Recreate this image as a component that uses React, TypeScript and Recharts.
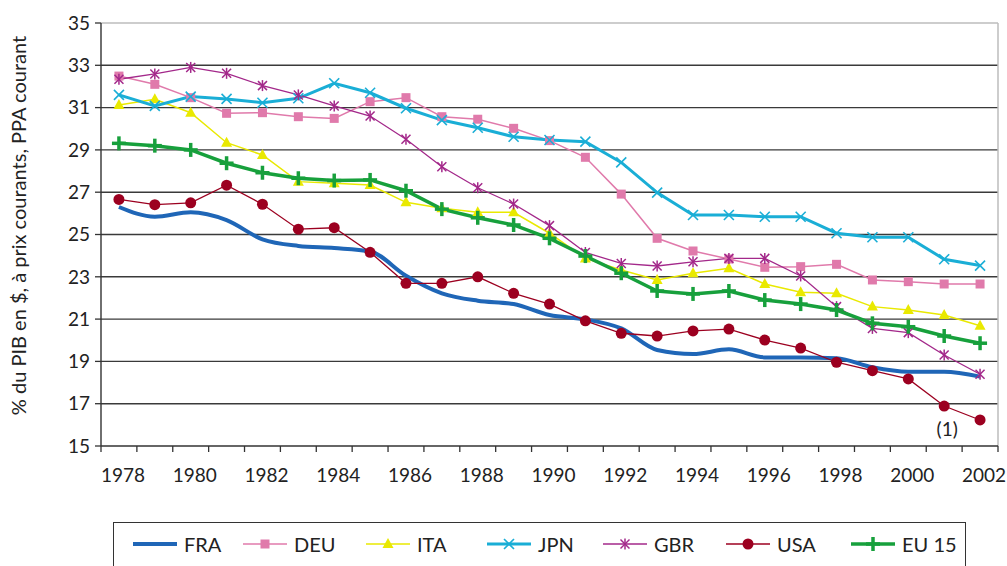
import React from 'react';
import { CartesianGrid, Line, LineChart, ReferenceDot, ReferenceLine, XAxis, YAxis } from 'recharts';

const YEARS = [
  1978, 1979, 1980, 1981, 1982, 1983, 1984, 1985, 1986, 1987, 1988, 1989, 1990,
  1991, 1992, 1993, 1994, 1995, 1996, 1997, 1998, 1999, 2000, 2001, 2002,
];
const YEAR_LABELS = [1978, 1980, 1982, 1984, 1986, 1988, 1990, 1992, 1994, 1996, 1998, 2000, 2002];
const Y_TICKS = [15, 17, 19, 21, 23, 25, 27, 29, 31, 33, 35];
const GRID_VALUES = [17, 19, 21, 23, 25, 27, 29, 31, 33];

const FRA = [26.3, 25.84, 26.05, 25.68, 24.77, 24.46, 24.36, 24.2, 23.05, 22.22, 21.87, 21.71, 21.19, 20.99, 20.56, 19.54, 19.35, 19.57, 19.19, 19.19, 19.15, 18.72, 18.51, 18.51, 18.28];
const DEU = [32.49, 32.1, 31.47, 30.73, 30.76, 30.57, 30.49, 31.28, 31.47, 30.57, 30.45, 30.02, 29.44, 28.65, 26.91, 24.82, 24.22, 23.84, 23.45, 23.48, 23.59, 22.85, 22.77, 22.66, 22.66];
const ITA = [31.12, 31.39, 30.76, 29.34, 28.76, 27.5, 27.42, 27.34, 26.52, 26.24, 26.05, 26.05, 25.06, 23.87, 23.32, 22.85, 23.17, 23.4, 22.66, 22.27, 22.22, 21.59, 21.43, 21.19, 20.69];
const JPN = [31.6, 31.08, 31.52, 31.41, 31.23, 31.44, 32.15, 31.7, 30.97, 30.41, 30.05, 29.62, 29.47, 29.39, 28.41, 26.98, 25.92, 25.92, 25.84, 25.84, 25.06, 24.87, 24.87, 23.83, 23.53];
const GBR = [32.34, 32.59, 32.9, 32.62, 32.04, 31.6, 31.08, 30.6, 29.5, 28.2, 27.21, 26.44, 25.42, 24.15, 23.63, 23.51, 23.71, 23.87, 23.87, 23.04, 21.59, 20.56, 20.36, 19.3, 18.39];
const USA = [26.66, 26.41, 26.5, 27.33, 26.43, 25.25, 25.32, 24.16, 22.69, 22.69, 23.0, 22.22, 21.71, 20.92, 20.33, 20.2, 20.44, 20.53, 20.01, 19.63, 18.96, 18.56, 18.17, 16.89, 16.23];
const EU15 = [29.31, 29.2, 29.0, 28.37, 27.92, 27.66, 27.55, 27.58, 27.07, 26.2, 25.79, 25.45, 24.82, 23.98, 23.17, 22.33, 22.19, 22.33, 21.9, 21.71, 21.43, 20.8, 20.64, 20.2, 19.86];

const NOTE = { year: 2001, value: 15.8, text: '(1)' };
const Y_LABEL = '% du PIB en $, à prix courants, PPA courant';

const FONT = 'Lato, "Open Sans", sans-serif';
const INK = '#222';
const AXIS = '#333';

type Shape = 'none' | 'square' | 'triangle' | 'cross' | 'star' | 'circle' | 'plus';

const SERIES: { key: string; name: string; color: string; width: number; shape: Shape; curve: 'linear' | 'monotone' }[] = [
  { key: 'FRA', name: 'FRA', color: '#1f66b7', width: 4, shape: 'none', curve: 'monotone' },
  { key: 'DEU', name: 'DEU', color: '#e07aab', width: 1.5, shape: 'square', curve: 'linear' },
  { key: 'ITA', name: 'ITA', color: '#e9e900', width: 1.5, shape: 'triangle', curve: 'linear' },
  { key: 'JPN', name: 'JPN', color: '#1aaed6', width: 3, shape: 'cross', curve: 'linear' },
  { key: 'GBR', name: 'GBR', color: '#a3288a', width: 1.3, shape: 'star', curve: 'linear' },
  { key: 'USA', name: 'USA', color: '#9c0020', width: 1.3, shape: 'circle', curve: 'linear' },
  { key: 'EU15', name: 'EU 15', color: '#17a03c', width: 3.5, shape: 'plus', curve: 'linear' },
];

const data = YEARS.map((year, i) => ({
  year,
  FRA: FRA[i],
  DEU: DEU[i],
  ITA: ITA[i],
  JPN: JPN[i],
  GBR: GBR[i],
  USA: USA[i],
  EU15: EU15[i],
}));

const boundaries = [...YEARS.map((y) => y - 0.5), YEARS[YEARS.length - 1] + 0.5];
const xTicks = [...boundaries, ...YEAR_LABELS].sort((a, b) => a - b);

function Marker({ shape, x, y, color }: { shape: Shape; x: number; y: number; color: string }) {
  switch (shape) {
    case 'square':
      return <rect x={x - 4.5} y={y - 4.5} width={9} height={9} fill={color} />;
    case 'triangle':
      return <polygon points={`${x},${y - 6} ${x + 5.5},${y + 4} ${x - 5.5},${y + 4}`} fill={color} />;
    case 'cross':
      return (
        <g stroke={color} strokeWidth={1.6}>
          <line x1={x - 5} y1={y - 5} x2={x + 5} y2={y + 5} />
          <line x1={x - 5} y1={y + 5} x2={x + 5} y2={y - 5} />
        </g>
      );
    case 'star':
      return (
        <g stroke={color} strokeWidth={1.5}>
          <line x1={x - 4.5} y1={y - 4.5} x2={x + 4.5} y2={y + 4.5} />
          <line x1={x - 4.5} y1={y + 4.5} x2={x + 4.5} y2={y - 4.5} />
          <line x1={x} y1={y - 5.5} x2={x} y2={y + 5.5} />
        </g>
      );
    case 'circle':
      return <circle cx={x} cy={y} r={5.5} fill={color} />;
    case 'plus':
      return (
        <g stroke={color} strokeWidth={3.5}>
          <line x1={x - 7} y1={y} x2={x + 7} y2={y} />
          <line x1={x} y1={y - 7} x2={x} y2={y + 7} />
        </g>
      );
    default:
      return null;
  }
}

function makeDot(shape: Shape, color: string) {
  if (shape === 'none') return false;
  return (props: any) => (
    <g key={props.key ?? `${shape}-${props.index}`}>
      <Marker shape={shape} x={props.cx} y={props.cy} color={color} />
    </g>
  );
}

function XTick({ x, y, payload }: any) {
  const v = payload.value;
  if (v % 1 !== 0) {
    return <line x1={x} x2={x} y1={y} y2={y + 6} stroke={AXIS} strokeWidth={1.3} />;
  }
  return (
    <text x={x + 4} y={y + 36} textAnchor="middle" fontSize={19} fontFamily={FONT} fill={INK}>
      {v}
    </text>
  );
}

function YLabel({ viewBox }: any) {
  const cy = viewBox.y + viewBox.height / 2 - 9;
  return (
    <text
      x={18}
      y={cy}
      transform={`rotate(-90 18 ${cy})`}
      textAnchor="middle"
      dominantBaseline="central"
      fontSize={20}
      fontFamily={FONT}
      fill={INK}
    >
      {Y_LABEL}
    </text>
  );
}

function LegendBox() {
  const lefts = [19, 129, 252, 373, 489, 612, 737];
  return (
    <div
      style={{
        position: 'absolute',
        left: 113,
        top: 522,
        width: 853,
        height: 60,
        border: '1.5px solid #333',
        boxSizing: 'border-box',
        fontFamily: FONT,
        fontSize: 20,
        color: INK,
      }}
    >
      {SERIES.map((s, i) => (
        <div
          key={s.key}
          style={{ position: 'absolute', left: lefts[i], top: 8, display: 'flex', alignItems: 'center', height: 26 }}
        >
          <svg width={44} height={20} style={{ display: 'block' }}>
            <line x1={0} x2={44} y1={10} y2={10} stroke={s.color} strokeWidth={s.width} />
            <Marker shape={s.shape} x={22} y={10} color={s.color} />
          </svg>
          <span style={{ marginLeft: 7, lineHeight: '26px' }}>{s.name}</span>
        </div>
      ))}
    </div>
  );
}

export default function App() {
  return (
    <div style={{ position: 'absolute', left: 0, top: 0, width: 1007, height: 566, background: '#fff', overflow: 'hidden' }}>
      <LineChart width={1007} height={566} data={data} margin={{ top: 23, right: 9, bottom: 80, left: 0 }}>
        <CartesianGrid vertical={false} horizontalValues={GRID_VALUES} stroke="#3a3a3a" strokeWidth={1.4} />
        <ReferenceLine y={35} stroke="#bdbdbd" strokeWidth={1.5} />
        <ReferenceLine x={2002.5} stroke="#bdbdbd" strokeWidth={1.5} />
        <XAxis
          dataKey="year"
          type="number"
          domain={[1977.5, 2002.5]}
          ticks={xTicks}
          interval={0}
          height={40}
          tickSize={0}
          tickMargin={0}
          tickLine={false}
          axisLine={{ stroke: AXIS, strokeWidth: 1.4 }}
          tick={<XTick />}
          allowDataOverflow
        />
        <YAxis
          type="number"
          domain={[15, 35]}
          ticks={Y_TICKS}
          interval={0}
          width={101}
          tickSize={6}
          tickMargin={5}
          axisLine={{ stroke: AXIS, strokeWidth: 1.4 }}
          tickLine={{ stroke: AXIS, strokeWidth: 1.3 }}
          tick={{ fontSize: 19, fontFamily: FONT, fill: INK }}
          label={<YLabel />}
        />
        {SERIES.map((s) => (
          <Line
            key={s.key}
            type={s.curve}
            dataKey={s.key}
            name={s.name}
            stroke={s.color}
            strokeWidth={s.width}
            dot={makeDot(s.shape, s.color)}
            activeDot={false}
            isAnimationActive={false}
          />
        ))}
        <ReferenceDot
          x={NOTE.year}
          y={NOTE.value}
          r={1}
          fill="none"
          stroke="none"
          label={{ value: NOTE.text, position: 'center', dx: 3, fontSize: 19, fontFamily: FONT, fill: INK }}
        />
      </LineChart>
      <LegendBox />
    </div>
  );
}
